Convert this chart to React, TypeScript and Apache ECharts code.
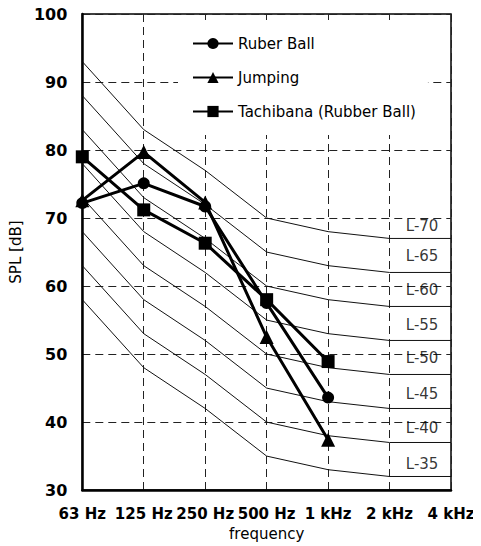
import React, { useEffect, useRef } from "react";
import * as echarts from "echarts";

// Octave-band centre frequencies
const xLabels = ["63 Hz", "125 Hz", "250 Hz", "500 Hz", "1 kHz", "2 kHz", "4 kHz"];

// Measured SPL [dB] per band (63 Hz .. 1 kHz)
const rubberBall = [72.2, 75.1, 71.7, 57.5, 43.6];
const jumping = [72.6, 79.7, 72.3, 52.5, 37.4];
const tachibana = [79.0, 71.2, 66.3, 58.0, 48.9];

// Floor impact sound rating curves L-70 .. L-35
const contourNames = ["L-70", "L-65", "L-60", "L-55", "L-50", "L-45", "L-40", "L-35"];
const l70 = [93, 83, 77, 70, 68, 67, 67];
const l65 = [88, 78, 72, 65, 63, 62, 62];
const l60 = [83, 73, 67, 60, 58, 57, 57];
const l55 = [78, 68, 62, 55, 53, 52, 52];
const l50 = [73, 63, 57, 50, 48, 47, 47];
const l45 = [68, 58, 52, 45, 43, 42, 42];
const l40 = [63, 53, 47, 40, 38, 37, 37];
const l35 = [58, 48, 42, 35, 33, 32, 32];
const contours = [l70, l65, l60, l55, l50, l45, l40, l35];

// Where each curve name sits (between 2 kHz and 4 kHz)
const labelX = 5.53;
const labelY = [68.8, 64.4, 59.4, 54.3, 49.4, 44.1, 39.2, 33.8];

const FONT = "'DejaVu Sans', Verdana, sans-serif";

const toPoints = (arr: number[]) => arr.map((v, i) => [i, v]);

export default function App() {
  const ref = useRef<HTMLDivElement>(null);

  useEffect(() => {
    if (!ref.current) return;
    const chart = echarts.init(ref.current, null, { renderer: "svg" });

    const contourSeries = contours.map((c, i) => ({
      name: contourNames[i],
      type: "line",
      data: toPoints(c),
      showSymbol: false,
      symbol: "none",
      silent: true,
      lineStyle: { color: "#111", width: 1 },
      z: 1,
    }));

    const dataLine = (name: string, values: number[], symbol: string, size: number) => ({
      name,
      type: "line",
      data: toPoints(values),
      symbol,
      symbolSize: size,
      itemStyle: { color: "#000" },
      lineStyle: { color: "#000", width: 3 },
      z: 5,
    });

    chart.setOption({
      animation: false,
      backgroundColor: "#fff",
      grid: {
        left: 75,
        right: 30,
        top: 14,
        bottom: 55,
        show: true,
        borderColor: "#000",
        borderWidth: 1.5,
        backgroundColor: "transparent",
      },
      legend: {
        data: ["Ruber Ball", "Jumping", "Tachibana (Rubber Ball)"],
        orient: "vertical",
        left: 178,
        top: 20,
        padding: [16, 12, 16, 14],
        itemWidth: 40,
        itemHeight: 14,
        itemGap: 19,
        backgroundColor: "#fff",
        selectedMode: false,
        textStyle: { fontFamily: FONT, fontSize: 15, color: "#000" },
        z: 10,
      },
      xAxis: {
        type: "value",
        min: 0,
        max: 6,
        interval: 1,
        name: "frequency",
        nameLocation: "middle",
        nameGap: 32,
        nameTextStyle: { fontFamily: FONT, fontSize: 15, color: "#000" },
        axisLine: { lineStyle: { color: "#000", width: 2.5 } },
        axisTick: { show: false },
        axisLabel: {
          margin: 16,
          fontFamily: FONT,
          fontSize: 15,
          fontWeight: "bold",
          color: "#000",
          formatter: (v: number) => xLabels[Math.round(v)] ?? "",
        },
        splitLine: { show: true, lineStyle: { color: "#222", width: 1, type: [8, 5] } },
      },
      yAxis: {
        type: "value",
        min: 30,
        max: 100,
        interval: 10,
        name: "SPL [dB]",
        nameLocation: "middle",
        nameGap: 40,
        nameRotate: 90,
        nameTextStyle: { fontFamily: FONT, fontSize: 15, color: "#000" },
        axisLine: { show: true, lineStyle: { color: "#000", width: 2.5 } },
        axisTick: { show: false },
        axisLabel: {
          margin: 15,
          fontFamily: FONT,
          fontSize: 16,
          fontWeight: "bold",
          color: "#000",
        },
        splitLine: { show: true, lineStyle: { color: "#222", width: 1, type: [8, 5] } },
      },
      series: [
        ...contourSeries,
        {
          name: "curve labels",
          type: "scatter",
          silent: true,
          symbolSize: 0,
          data: contourNames.map((n, i) => [labelX, labelY[i], n]),
          label: {
            show: true,
            position: "inside",
            formatter: (p: any) => p.data[2],
            fontFamily: FONT,
            fontSize: 15,
            color: "#000",
          },
          z: 3,
        },
        dataLine("Ruber Ball", rubberBall, "circle", 12),
        dataLine("Jumping", jumping, "triangle", 14),
        dataLine("Tachibana (Rubber Ball)", tachibana, "rect", 13),
      ],
    });

    return () => chart.dispose();
  }, []);

  return (
    <div
      ref={ref}
      style={{ width: 481, height: 546, marginTop: -8, marginLeft: -8, marginRight: -8, marginBottom: 0 }}
    />
  );
}
